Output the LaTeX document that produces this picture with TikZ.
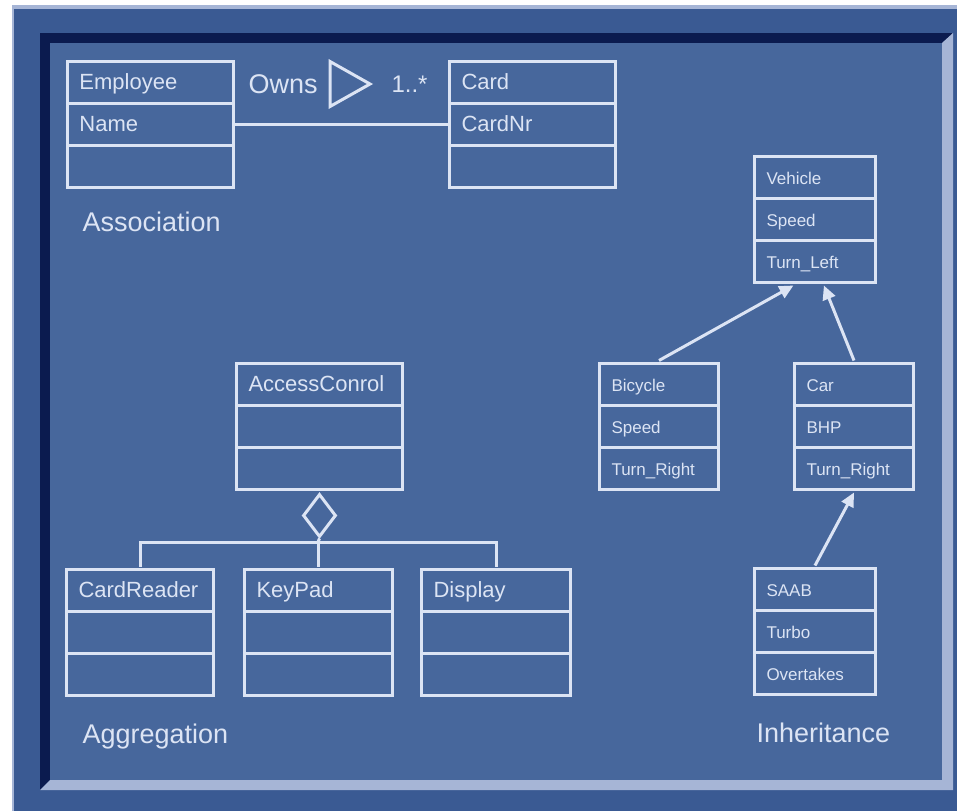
\documentclass[tikz,border=0pt]{standalone}
\usepackage{fontspec}
\setmainfont{Liberation Sans}
\usepackage{tikz}
\usetikzlibrary{arrows.meta, positioning, shapes.geometric, calc, matrix}

\definecolor{frameblue}{HTML}{3A5A93}
\definecolor{panelblue}{HTML}{47679C}
\definecolor{bevelnavy}{HTML}{0B1B4F}
\definecolor{bevellight}{HTML}{A6B5D6}
\definecolor{umlline}{HTML}{DCE4F4}

\begin{document}
\begin{tikzpicture}[
    x=1pt, y=-1pt, line width=3pt, color=umlline,
    % Styles
    classcell/.style={draw=umlline, text=umlline, minimum height=42pt, inner xsep=12pt, inner ysep=0pt, text height=17pt, text depth=3pt, align=left, font=\fontsize{22}{26}\selectfont},
    smallcell/.style={classcell, font=\fontsize{17}{20}\selectfont},
    classmatrix/.style={matrix of nodes, ampersand replacement=\&, row sep=-\pgflinewidth, inner sep=0pt, anchor=north west, nodes={classcell}},
    sectionlabel/.style={anchor=west, inner sep=0pt, text=umlline, font=\fontsize{27}{32}\selectfont},
    isa/.style={draw=umlline, -{Triangle[length=14pt, width=13pt]}},
    aggnode/.style={diamond, draw=umlline, inner sep=0pt, minimum width=33pt, minimum height=43pt, anchor=north}
]
    \useasboundingbox (0,0) rectangle (957,811);

    % Bevelled frame
    \fill[white] (0,0) rectangle (957,811);
    \fill[bevellight] (12,5) rectangle (957,811);
    \fill[frameblue] (14,9) rectangle (957,811);
    \fill[bevelnavy] (40,33) -- (953,33) -- (942,43) -- (50,43) -- (50,780) -- (40,790) -- cycle;
    \fill[bevellight] (953,33) -- (953,790) -- (40,790) -- (50,780) -- (942,780) -- (942,43) -- cycle;
    \fill[panelblue] (50,43) rectangle (942,780);

    % Association
    \matrix[classmatrix, nodes={text width=142pt}] (employee) at (64.5,58) {
        Employee \\
        Name \\
        ~ \\
    };
    \matrix[classmatrix, nodes={text width=142pt}] (card) at (446.5,58) {
        Card \\
        CardNr \\
        ~ \\
    };
    \draw[umlline] (employee-2-1.east) -- (card-2-1.west);
    \node[sectionlabel] (owns) at (247,84) {Owns};
    \draw[umlline] ($(owns.east)+(11,-22.5)$) -- ++(0,45) -- ++(40,-22.5) -- cycle;
    \node[sectionlabel, font=\fontsize{24}{28}\selectfont] (mult) at (390,84) {1..*};
    \node[sectionlabel] (assoc) at (81,222) {Association};

    % Aggregation
    \matrix[classmatrix, nodes={text width=142pt}] (access) at (233.5,360.5) {
        AccessConrol \\
        ~ \\
        ~ \\
    };
    \matrix[classmatrix, nodes={text width=123pt}] (cardreader) at (63.5,566.5) {
        CardReader \\
        ~ \\
        ~ \\
    };
    \matrix[classmatrix, nodes={text width=124pt}] (keypad) at (241.5,566.5) {
        KeyPad \\
        ~ \\
        ~ \\
    };
    \matrix[classmatrix, nodes={text width=125pt}] (display) at (418.5,566.5) {
        Display \\
        ~ \\
        ~ \\
    };
    \node[aggnode] (agg) at (access.south) {};
    \coordinate (bar) at (318,542);
    \draw[umlline] (agg.south) -- (bar);
    \draw[umlline] (cardreader.north) |- (bar) -| (display.north);
    \draw[umlline] (keypad.north) -- (keypad.north |- bar);
    \node[sectionlabel] (aggr) at (81,737) {Aggregation};

    % Inheritance
    \matrix[classmatrix, nodes={smallcell, text width=97pt}] (vehicle) at (751.5,153.5) {
        Vehicle \\
        Speed \\
        Turn\_Left \\
    };
    \matrix[classmatrix, nodes={smallcell, text width=95pt}] (bicycle) at (596.5,360.5) {
        Bicycle \\
        Speed \\
        Turn\_Right \\
    };
    \matrix[classmatrix, nodes={smallcell, text width=95pt}] (car) at (791.5,360.5) {
        Car \\
        BHP \\
        Turn\_Right \\
    };
    \matrix[classmatrix, nodes={smallcell, text width=97pt}] (saab) at (751.5,565.5) {
        SAAB \\
        Turbo \\
        Overtakes \\
    };
    \draw[isa] (bicycle.north) -- ($(vehicle.south west)!0.33!(vehicle.south east)$);
    \draw[isa] (car.north) -- ($(vehicle.south west)!0.57!(vehicle.south east)$);
    \draw[isa] (saab.north) -- (car.south);
    \node[sectionlabel] (inher) at (755,733) {Inheritance};
\end{tikzpicture}
\end{document}
